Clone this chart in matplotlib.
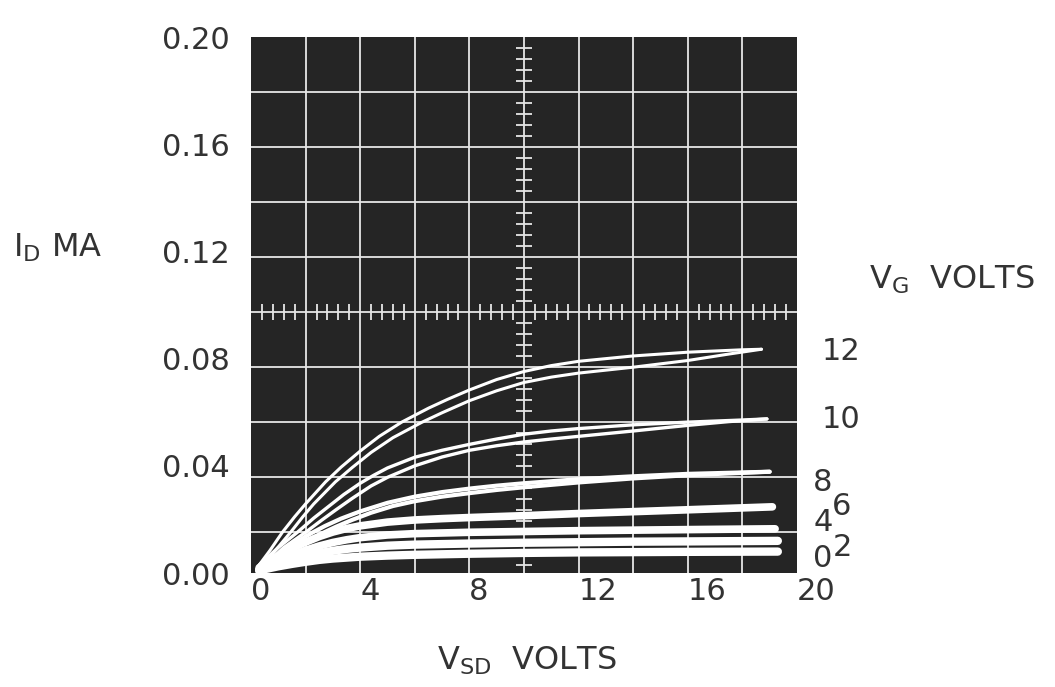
import matplotlib.pyplot as plt
import numpy as np

plt.rcParams['font.family'] = ['DejaVu Sans']
plt.rcParams['mathtext.default'] = 'regular'

# drain current (mA) vs source-drain voltage (V); 12, 10 and 8 V show a double trace
v12_up = [0.3, 0.7, 1.15, 1.6, 2.0, 2.73, 3.3, 4.0, 4.7, 5.52, 6.5, 7.2, 8.0, 9.0, 10.0, 11.0, 12.0, 14.0, 16.0, 18.0, 18.7]
i12_up = [0.003, 0.0085, 0.0152, 0.021, 0.0258, 0.034, 0.0395, 0.0455, 0.051, 0.0563, 0.0615, 0.0648, 0.0683, 0.0722, 0.0752, 0.0774, 0.079, 0.081, 0.0824, 0.0833, 0.0835]
v12_dn = [0.5, 0.9, 1.45, 1.9, 2.3, 3.09, 3.7, 4.4, 5.2, 6.25, 7.0, 8.0, 9.0, 10.0, 11.0, 12.0, 14.0, 16.0, 17.5, 18.7]
i12_dn = [0.003, 0.0085, 0.0152, 0.021, 0.0258, 0.034, 0.0393, 0.045, 0.0505, 0.0562, 0.0598, 0.0643, 0.068, 0.0711, 0.0731, 0.0746, 0.0768, 0.0793, 0.0817, 0.0835]

v10_up = [0.3, 1.0, 1.7, 2.3, 2.8, 3.4, 4.0, 4.5, 5.0, 6.0, 7.0, 8.0, 9.0, 10.0, 11.0, 12.0, 14.0, 16.0, 18.0, 18.9]
i10_up = [0.003, 0.0095, 0.0152, 0.0205, 0.0245, 0.0293, 0.0335, 0.0365, 0.0392, 0.0432, 0.0458, 0.048, 0.05, 0.0518, 0.053, 0.0539, 0.0553, 0.0563, 0.0571, 0.0575]
v10_dn = [0.5, 1.2, 2.0, 2.6, 3.1, 3.7, 4.4, 5.0, 6.0, 7.0, 8.0, 9.0, 10.0, 11.0, 12.0, 14.0, 16.0, 17.5, 18.9]
i10_dn = [0.003, 0.0095, 0.0152, 0.0198, 0.0235, 0.0278, 0.0325, 0.0357, 0.04, 0.0433, 0.0458, 0.0475, 0.0489, 0.05, 0.051, 0.053, 0.0551, 0.0565, 0.0575]

v8_up = [0.3, 0.8, 1.2, 1.7, 2.2, 2.7, 3.3, 4.0, 5.0, 6.0, 7.0, 8.0, 9.0, 10.0, 12.0, 14.0, 16.0, 19.0]
i8_up = [0.002, 0.0055, 0.0085, 0.0118, 0.0148, 0.0175, 0.0203, 0.023, 0.0262, 0.0285, 0.0302, 0.0315, 0.0326, 0.0335, 0.035, 0.0361, 0.037, 0.0378]
v8_dn = [0.5, 1.0, 1.5, 2.0, 2.6, 3.1, 3.7, 4.4, 5.2, 6.0, 7.0, 8.0, 9.0, 10.0, 12.0, 14.0, 16.0, 19.0]
i8_dn = [0.002, 0.0055, 0.0087, 0.0118, 0.0148, 0.0172, 0.0198, 0.0225, 0.025, 0.0268, 0.0285, 0.0298, 0.031, 0.032, 0.0338, 0.0353, 0.0365, 0.0378]

v6 = [0.3, 1.0, 1.5, 2.0, 2.5, 3.0, 3.5, 4.0, 5.0, 6.0, 7.0, 8.0, 10.0, 12.0, 14.0, 16.0, 19.1]
i6 = [0.002, 0.0063, 0.0092, 0.0115, 0.0136, 0.0153, 0.0166, 0.0176, 0.019, 0.0198, 0.0203, 0.0207, 0.0214, 0.0222, 0.0229, 0.0236, 0.0247]
v4 = [0.3, 1.0, 1.5, 2.0, 2.5, 3.0, 3.5, 4.0, 5.0, 6.0, 8.0, 10.0, 12.0, 14.0, 16.0, 19.2]
i4 = [0.0015, 0.0047, 0.0067, 0.0085, 0.0101, 0.0114, 0.0124, 0.0132, 0.0142, 0.0147, 0.0152, 0.0155, 0.0158, 0.016, 0.0162, 0.0165]
v2 = [0.3, 1.0, 1.5, 2.0, 2.5, 3.0, 3.5, 4.0, 5.0, 6.0, 8.0, 10.0, 12.0, 14.0, 16.0, 19.3]
i2 = [0.001, 0.0034, 0.0049, 0.0062, 0.0074, 0.0083, 0.009, 0.0095, 0.0102, 0.0106, 0.011, 0.0113, 0.0115, 0.0117, 0.0118, 0.012]
v0 = [0.3, 1.0, 1.5, 2.0, 2.5, 3.0, 4.0, 5.0, 6.0, 8.0, 10.0, 12.0, 14.0, 16.0, 19.3]
i0 = [0.001, 0.0025, 0.0034, 0.0042, 0.0049, 0.0054, 0.0061, 0.0065, 0.0068, 0.0072, 0.0075, 0.0077, 0.0078, 0.0079, 0.008]

vg_labels = ['12', '10', '8', '6', '4', '2', '0']
x_ticks = [0, 4, 8, 12, 16, 20]
y_ticks = [0.00, 0.04, 0.08, 0.12, 0.16, 0.20]
y_ticklabels = ['0.00', '0.04', '0.08', '0.12', '0.16', '0.20']

ink = '#333333'
screen = '#252525'
trace = '#ffffff'
fs = 22

fig = plt.figure(figsize=(10.55, 6.87), dpi=100)
ax = fig.add_axes([0.2379, 0.1659, 0.5175, 0.7802])
ax.set_xlim(0, 20)
ax.set_ylim(0, 0.2)
ax.set_facecolor(screen)
for s in ax.spines.values():
    s.set_visible(False)

# graticule: 10 x 9.75 square divisions, top edge at 0.20
div_y = 0.2 / 9.745
for xv in np.arange(2, 20, 2):
    ax.axvline(xv, color='#e6e6e6', lw=1.3, zorder=1)
for k in range(1, 10):
    ax.axhline(0.2 - k * div_y, color='#e6e6e6', lw=1.3, zorder=1)

# minor ticks on the centre lines
yc = 0.2 - 5 * div_y
ys = [0.2 - k * div_y / 5 for k in range(1, 49) if k % 5]
ax.plot([10] * len(ys), ys, ls='none', marker='_', ms=11, mew=1.3, color='#e6e6e6', zorder=1)
xs = [k * 0.4 for k in range(1, 50) if k % 5]
ax.plot(xs, [yc] * len(xs), ls='none', marker='|', ms=11, mew=1.3, color='#e6e6e6', zorder=1)

# traces
kw = dict(color=trace, solid_capstyle='round', solid_joinstyle='round', zorder=3)
ax.plot(v12_up, i12_up, lw=2.2, **kw)
ax.plot(v12_dn, i12_dn, lw=2.2, **kw)
ax.plot(v10_up, i10_up, lw=2.4, **kw)
ax.plot(v10_dn, i10_dn, lw=2.4, **kw)
ax.plot(v8_up, i8_up, lw=3.0, **kw)
ax.plot(v8_dn, i8_dn, lw=3.0, **kw)
ax.plot(v6, i6, lw=5.5, **kw)
ax.plot(v4, i4, lw=5.5, **kw)
ax.plot(v2, i2, lw=6.0, **kw)
ax.plot(v0, i0, lw=6.0, **kw)

# gate voltage labels beside the trace ends
lab_x = [21.6, 21.6, 20.95, 21.65, 20.95, 21.65, 20.95]
lab_y = [0.0826, 0.0572, 0.0336, 0.0247, 0.0187, 0.0097, 0.0056]
for t, lx, ly in zip(vg_labels, lab_x, lab_y):
    ax.text(lx, ly, t, fontsize=fs, color=ink, ha='center', va='center', clip_on=False)

ax.set_xticks(x_ticks)
ax.set_xticklabels([str(v) for v in x_ticks], fontsize=fs, color=ink, ha='left')
ax.set_yticks(y_ticks)
ax.set_yticklabels(y_ticklabels, fontsize=fs, color=ink)
ax.tick_params(axis='both', length=0)
ax.tick_params(axis='x', pad=3)
ax.tick_params(axis='y', pad=15)

fig.text(0.012, 0.640, r'I$_{D}$ MA', fontsize=23, color=ink, ha='left', va='center')
fig.text(0.824, 0.592, r'V$_{G}$  VOLTS', fontsize=23, color=ink, ha='left', va='center')
fig.text(0.499, 0.038, r'V$_{SD}$  VOLTS', fontsize=23, color=ink, ha='center', va='center')

fig.savefig('out.png', dpi=100, facecolor='white')
